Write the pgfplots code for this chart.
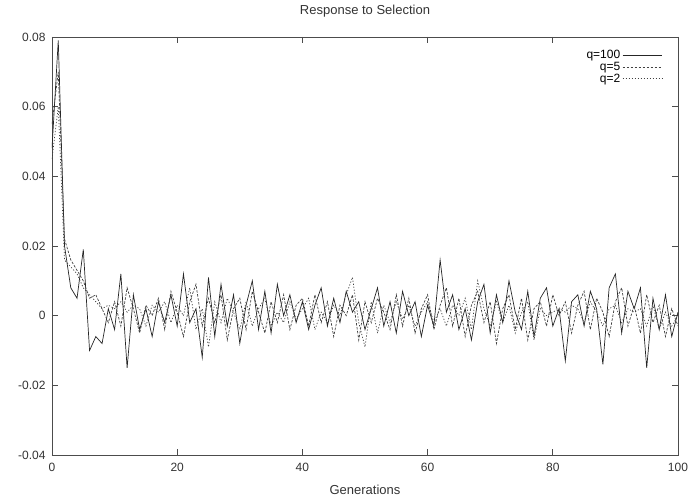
\documentclass[border=0pt]{standalone}
\usepackage{fontspec}
\setmainfont{Liberation Sans}
\usepackage{pgfplots}
\usepackage{pgfplotstable}
\pgfplotsset{compat=1.18}
\pgfplotstableread{
g q100 q5 q2
0 0.048 0.055 0.045
1 0.079 0.070 0.060
2 0.020 0.022 0.016
3 0.008 0.016 0.014
4 0.005 0.013 0.012
5 0.019 0.010 0.008
6 -0.010 0.005 0.006
7 -0.006 0.006 0.004
8 -0.008 0.002 0.002
9 0.002 -0.002 0.003
10 -0.004 0.004 0.002
11 0.012 -0.003 0.004
12 -0.015 0.008 0.001
13 0.006 0.002 0.003
14 -0.004 -0.005 0.002
15 0.002 0.003 -0.003
16 -0.006 0.000 0.003
17 0.004 0.005 0.001
18 -0.002 -0.004 0.004
19 0.006 0.007 -0.002
20 -0.003 0.001 0.003
21 0.012 -0.006 0.000
22 -0.002 0.004 0.008
23 0.002 0.009 -0.004
24 -0.012 -0.003 0.002
25 0.011 0.005 -0.009
26 -0.006 -0.002 0.004
27 0.009 0.006 -0.002
28 -0.003 -0.007 0.005
29 0.006 0.002 0.001
30 -0.008 0.005 -0.004
31 0.003 -0.004 0.004
32 0.010 0.007 -0.003
33 -0.004 0.001 0.002
34 0.007 -0.005 0.005
35 -0.005 0.004 -0.003
36 0.009 -0.002 0.001
37 0.000 0.006 -0.002
38 0.006 -0.004 0.004
39 -0.002 0.003 -0.001
40 0.004 0.005 0.002
41 -0.004 -0.003 0.005
42 0.003 0.006 -0.004
43 0.008 -0.002 0.001
44 -0.003 0.004 -0.002
45 0.005 -0.006 0.003
46 -0.002 0.003 0.000
47 0.007 0.000 0.006
48 0.001 0.006 0.011
49 0.004 -0.007 -0.002
50 -0.004 0.004 -0.009
51 0.002 -0.002 0.004
52 0.008 0.005 -0.005
53 -0.003 0.001 0.003
54 0.004 -0.004 -0.002
55 -0.005 0.006 0.004
56 0.007 -0.003 -0.001
57 0.000 0.005 0.003
58 0.004 -0.005 -0.003
59 -0.006 0.002 0.001
60 0.003 0.006 0.004
61 -0.003 -0.004 -0.002
62 0.016 0.003 0.002
63 0.001 0.008 -0.003
64 0.006 -0.003 0.003
65 -0.004 0.005 0.000
66 0.002 -0.006 0.005
67 -0.007 0.003 -0.004
68 0.004 0.007 0.010
69 0.009 -0.002 0.002
70 -0.005 0.004 -0.003
71 0.006 -0.008 0.004
72 -0.002 0.002 -0.002
73 0.010 0.006 0.003
74 0.001 -0.004 -0.005
75 -0.004 0.005 0.001
76 0.007 -0.007 0.004
77 -0.006 0.002 -0.007
78 0.005 0.004 0.002
79 0.008 -0.003 0.000
80 -0.003 0.006 0.001
81 0.002 0.000 0.002
82 -0.013 0.004 0.001
83 0.004 -0.005 0.003
84 0.006 0.003 0.002
85 -0.003 0.007 -0.002
86 0.007 -0.004 0.004
87 0.002 0.005 0.001
88 -0.014 0.001 -0.003
89 0.008 -0.006 0.002
90 0.012 0.004 0.003
91 -0.005 0.008 -0.002
92 0.007 -0.003 0.002
93 0.002 0.003 0.001
94 0.008 -0.005 0.002
95 -0.015 0.006 -0.003
96 0.005 -0.002 0.003
97 -0.004 0.003 -0.004
98 0.006 -0.006 0.001
99 -0.006 0.002 -0.003
100 0.001 -0.003 0.000
}\datatable
\begin{document}
\begin{tikzpicture}
\begin{axis}[
  name=main,
  scale only axis,
  width=626pt, height=418pt,
  xmin=0, xmax=100, ymin=-0.04, ymax=0.08,
  xtick={0,20,40,60,80,100},
  ytick={-0.04,-0.02,0,0.02,0.04,0.06,0.08},
  scaled y ticks=false,
  yticklabel style={/pgf/number format/fixed, /pgf/number format/precision=2, xshift=-3pt},
  xticklabel style={yshift=-5pt},
  /pgf/number format/assume math mode=true,
  tick align=inside,
  major tick length=6pt,
  axis line style={black!70, line width=0.8pt},
  every tick/.style={black!70, line width=0.8pt},
  tick label style={font=\fontsize{12}{13}\selectfont, text=black!80},
  label style={font=\fontsize{13}{14}\selectfont, text=black!80},
  title style={font=\fontsize{13}{14}\selectfont, text=black!80,
    at={(axis description cs:0.5,1)}, anchor=base, yshift=16pt},
  title={Response to Selection},
  xlabel={Generations},
  xlabel style={at={(axis description cs:0.5,0)}, anchor=base, yshift=-40pt},
  legend style={at={(axis description cs:1,1)}, anchor=north east,
    xshift=-14pt, yshift=-10pt, draw=none, fill=none,
    font=\fontsize{12}{13}\selectfont, row sep=-2pt, inner sep=1pt},
  legend cell align=right,
  legend plot pos=right,
  legend image code/.code={\draw[#1] (0.1cm,0cm) -- (1.5cm,0cm);},
]
\addplot[black!85, line width=0.7pt] table[x=g, y=q100] {\datatable};
\addlegendentry{q=100}
\addplot[black!75, line width=0.7pt, dash pattern=on 2.5pt off 1.5pt] table[x=g, y=q5] {\datatable};
\addlegendentry{q=5}
\addplot[black!75, line width=0.7pt, dash pattern=on 1.2pt off 1.8pt] table[x=g, y=q2] {\datatable};
\addlegendentry{q=2}
\end{axis}
\pgfresetboundingbox
\path[use as bounding box] ([xshift=-52pt,yshift=-49pt]main.south west) rectangle ([xshift=13pt,yshift=37pt]main.north east);
\end{tikzpicture}
\end{document}
